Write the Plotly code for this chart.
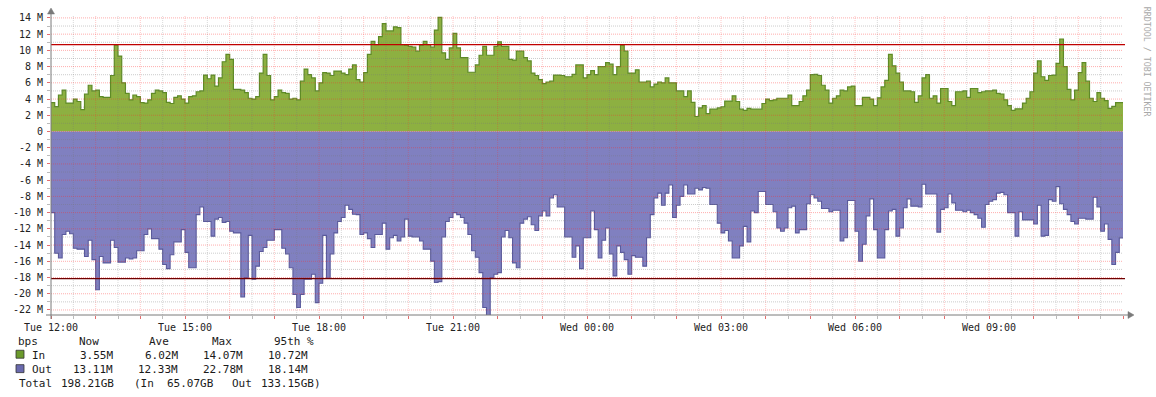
import pandas as pd
import plotly.graph_objects as go

# ---------------- data (Mbit/s, 5-minute samples from Tue 12:00) ----------------
in_mbps = [
    3.56, 3.07, 4.5, 5.1, 3.5, 3.5, 4.0, 3.7, 2.7, 4.6,
    5.7, 5.0, 5.1, 4.3, 4.2, 4.2, 6.9, 10.65, 9.3, 6.0,
    4.7, 3.9, 4.5, 4.3, 3.55, 3.5, 3.9, 4.7, 5.1, 5.0,
    4.8, 3.6, 3.45, 4.2, 4.4, 4.0, 3.5, 4.3, 4.4, 4.9,
    5.0, 6.95, 6.5, 6.95, 5.6, 6.6, 8.6, 9.5, 8.9, 5.2,
    5.2, 5.1, 4.8, 4.1, 4.0, 4.3, 7.2, 9.5,
    6.9, 3.9, 4.3, 5.1, 4.8, 4.7, 4.0, 4.1, 3.9, 6.2,
    7.7, 7.0, 6.6, 5.0, 6.0, 7.25, 7.2, 6.9, 7.45, 7.45,
    7.2, 7.0, 7.7, 8.2, 6.4, 6.1, 7.25, 9.5, 11.1, 10.7,
    11.7, 13.3, 12.4, 12.4, 12.9, 12.8, 10.7, 10.65, 10.5, 10.4,
    9.9, 10.65, 11.1, 10.7, 10.4, 12.5, 14.07, 9.7, 8.9, 10.3,
    12.1, 10.3, 9.1, 9.1, 7.3, 7.3, 8.2,
    9.4, 10.5, 9.4, 9.4, 10.5, 11.05, 10.5, 10.5, 8.9, 8.8,
    9.9, 9.9, 9.1, 8.7, 7.2, 6.9, 6.4, 5.9, 6.1, 6.2,
    6.95, 6.95, 6.9, 6.75, 6.75, 7.05, 8.2, 8.2, 6.6, 7.0,
    7.5, 7.0, 8.0, 8.0, 8.5, 8.3, 7.0, 8.0, 10.65, 9.9,
    7.2, 7.2, 7.6, 6.1, 6.1, 6.2, 5.5, 5.85, 6.1, 6.0,
    6.6, 6.0, 6.0, 5.0, 5.0, 4.3, 5.0, 3.6,
    1.85, 2.9, 3.2, 2.2, 2.75, 2.75, 2.9, 3.05, 3.75, 3.75,
    4.4, 3.7, 2.75, 2.6, 2.85, 2.75, 2.75, 2.75, 3.45, 4.0,
    3.8, 3.9, 4.1, 4.1, 4.1, 4.5, 3.2, 3.2, 3.7, 4.4,
    5.1, 7.0, 7.05, 6.9, 5.7, 5.1, 3.5, 4.1, 4.4, 5.1,
    5.0, 5.5, 5.6, 3.2, 3.2, 4.2, 4.2, 4.0, 3.2, 4.15,
    5.5, 6.3, 9.5, 8.1, 7.2, 6.1, 5.0,
    5.0, 4.9, 3.6, 4.4, 6.6, 7.0, 4.1, 4.4, 3.5, 5.3,
    5.3, 3.7, 3.2, 4.9, 4.9, 5.0, 4.2, 5.3, 5.3, 4.8,
    4.9, 5.0, 5.0, 5.1, 4.7, 4.6, 3.9, 3.2, 2.6, 2.8,
    2.8, 3.5, 4.1, 4.9, 7.2, 8.7, 6.75, 6.3, 6.9, 6.95,
    8.4, 11.4, 8.0, 5.2, 3.9, 5.1, 7.25, 8.5, 6.2, 4.1,
    3.7, 4.8, 4.1, 3.8, 2.85, 3.1, 3.55, 3.55,
]

out_mbps = [
    10.0, 15.0, 15.6, 12.7, 12.3, 12.6, 14.4, 14.5, 14.5, 15.4,
    13.4, 15.8, 19.5, 15.4, 16.2, 16.2, 13.4, 14.3, 16.1, 16.1,
    15.6, 15.7, 15.6, 14.7, 14.7, 12.7, 12.0, 13.2, 13.2, 14.5,
    16.4, 16.9, 15.2, 13.6, 13.6, 12.1, 14.9, 16.8, 16.8, 10.25,
    9.3, 11.1, 11.1, 12.9, 10.8, 10.6, 11.2, 11.1, 12.3, 12.5,
    12.5, 20.4, 18.0, 12.8, 18.2, 16.6, 14.8, 14.3,
    13.4, 13.4, 12.1, 12.1, 14.4, 15.1, 16.8, 20.1, 21.7, 20.1,
    18.2, 18.2, 17.6, 21.1, 18.7, 12.8, 18.1, 15.1, 12.5, 11.1,
    10.6, 9.1, 9.6, 10.2, 10.25, 12.7, 12.5, 13.2, 14.3, 12.7,
    12.7, 11.3, 14.5, 13.1, 12.8, 13.5, 13.0, 10.8, 12.9, 13.0,
    13.0, 13.5, 14.5, 14.5, 15.98, 18.6, 18.5, 13.0, 11.1, 10.6,
    10.0, 10.25, 10.6, 11.3, 12.7, 14.7, 15.5,
    17.4, 21.7, 22.78, 18.0, 17.6, 17.4, 13.0, 12.2, 13.1, 16.2,
    16.8, 11.3, 10.8, 10.5, 11.5, 12.2, 10.4, 9.8, 10.4, 8.2,
    7.8, 9.3, 9.3, 13.0, 13.0, 15.5, 14.1, 16.9, 13.1, 13.1,
    9.8, 12.1, 15.6, 13.4, 11.9, 15.1, 17.8, 14.1, 14.9, 15.8,
    17.6, 15.3, 15.5, 15.5, 16.6, 13.1, 10.25, 8.2, 7.6, 9.1,
    7.6, 6.6, 10.6, 9.1, 8.0, 6.6, 7.7, 7.7,
    7.0, 7.2, 6.9, 7.0, 9.0, 9.0, 11.3, 12.5, 12.2, 13.5,
    15.6, 15.6, 14.1, 11.7, 13.6, 9.8, 10.0, 7.4, 7.4, 9.0,
    9.0, 9.9, 11.9, 12.3, 11.9, 9.4, 9.2, 12.5, 12.1, 12.1,
    8.9, 7.8, 8.2, 8.6, 9.5, 9.5, 9.9, 9.7, 9.7, 13.5,
    13.1, 8.5, 8.5, 12.3, 16.0, 13.9, 10.4, 8.3, 12.1, 15.6,
    15.6, 12.1, 9.8, 9.6, 12.9, 11.9, 9.4,
    8.3, 9.2, 9.2, 9.3, 6.5, 7.7, 7.7, 7.7, 12.4, 9.6,
    9.4, 7.7, 8.8, 9.7, 9.7, 9.9, 9.7, 10.0, 10.25, 10.7,
    11.8, 9.0, 8.6, 8.4, 7.6, 7.5, 7.8, 10.0, 10.0, 12.9,
    9.9, 10.9, 10.9, 10.9, 11.4, 9.1, 12.9, 12.8, 8.4, 8.6,
    6.8, 8.9, 9.6, 10.25, 11.1, 11.4, 10.7, 10.7, 10.8, 10.8,
    8.1, 9.3, 12.3, 11.4, 13.3, 16.4, 14.9, 13.11,
]

in_p95 = 10.72
out_p95 = 18.14

start_time = "2024-01-02 12:00"   # a Tuesday
sample_minutes = 5
span_hours = 24

y_tick_values = list(range(-22, 15, 2))
y_tick_labels = ["0" if v == 0 else f"{v} M" for v in y_tick_values]
x_label_every_hours = 3

legend_header = ["Now", "Ave", "Max", "95th %"]
in_stats = ["3.55M", "6.02M", "14.07M", "10.72M"]
out_stats = ["13.11M", "12.33M", "22.78M", "18.14M"]
total_parts = ["Total", "198.21GB", "(In", "65.07GB", "Out", "133.15GB)"]
credit = "RRDTOOL / TOBI OETIKER"

# ---------------- styling ----------------
W, H = 1156, 397
PL, PR, PT, PB = 51, 1123, 13, 315          # plot box in pixels
Y_TOP = 14.36
Y_BOT = -22.62
MONO = "DejaVu Sans Mono"
GREEN_FILL = "#8DB041"
GREEN_LINE = "#5E8A26"
BLUE_FILL = "#8080C0"
BLUE_LINE = "#5A5A9C"
MAJOR_H = "rgba(255,40,40,0.38)"
MINOR_H = "rgba(120,120,120,0.38)"
MAJOR_V = "rgba(255,40,40,0.26)"
MINOR_V = "rgba(120,120,120,0.28)"
AXIS = "#7A7A7A"


def X(px):
    return (px - PL) / (PR - PL)


def Y(py):
    return (PB - py) / (PB - PT)


t = pd.date_range(start_time, periods=len(in_mbps), freq=f"{sample_minutes}min")
t_end = t[0] + pd.Timedelta(hours=span_hours)
tx = list(t) + [t_end]
in_y = list(in_mbps) + [in_mbps[-1]]
out_y = [-v for v in out_mbps] + [-out_mbps[-1]]

fig = go.Figure()
fig.add_trace(go.Scatter(x=tx, y=in_y, mode="lines", line=dict(shape="hv", color=GREEN_LINE, width=1.2),
                         fill="tozeroy", fillcolor=GREEN_FILL, hoverinfo="skip", showlegend=False))
fig.add_trace(go.Scatter(x=tx, y=out_y, mode="lines", line=dict(shape="hv", color=BLUE_LINE, width=1.1),
                         fill="tozeroy", fillcolor=BLUE_FILL, hoverinfo="skip", showlegend=False))

shapes = []
# grid drawn above the areas (as rrdtool does)
for m in range(1, span_hours * 2):
    tv = t[0] + pd.Timedelta(minutes=30 * m)
    col = MAJOR_V if m % 2 == 0 else MINOR_V
    shapes.append(dict(type="line", xref="x", yref="paper", x0=tv, x1=tv, y0=0, y1=1,
                       line=dict(color=col, width=1, dash="1px,1px"), layer="above"))
for v in range(-22, 15):
    col = MAJOR_H if v % 2 == 0 else MINOR_H
    shapes.append(dict(type="line", xref="paper", yref="y", x0=0, x1=1, y0=v, y1=v,
                       line=dict(color=col, width=1, dash="1px,1px"), layer="above"))
# 95th percentile lines
shapes.append(dict(type="line", xref="paper", yref="y", x0=0, x1=X(1125), y0=in_p95, y1=in_p95,
                   line=dict(color="#C00000", width=1.2), layer="above"))
shapes.append(dict(type="line", xref="paper", yref="y", x0=0, x1=X(1125), y0=-out_p95, y1=-out_p95,
                   line=dict(color="#700000", width=1.2), layer="above"))
# axes with arrows
shapes.append(dict(type="line", xref="paper", yref="paper", x0=X(46), x1=X(1129), y0=Y(315), y1=Y(315),
                   line=dict(color=AXIS, width=1), layer="above"))
shapes.append(dict(type="path", xref="paper", yref="paper",
                   path=f"M {X(1128)} {Y(311.5)} L {X(1134)} {Y(315)} L {X(1128)} {Y(318.5)} Z",
                   fillcolor=AXIS, line=dict(color=AXIS, width=0.5), layer="above"))
shapes.append(dict(type="line", xref="paper", yref="paper", x0=X(51), x1=X(51), y0=Y(319), y1=Y(11),
                   line=dict(color=AXIS, width=1), layer="above"))
shapes.append(dict(type="path", xref="paper", yref="paper",
                   path=f"M {X(47.5)} {Y(12)} L {X(51)} {Y(6)} L {X(54.5)} {Y(12)} Z",
                   fillcolor=AXIS, line=dict(color=AXIS, width=0.5), layer="above"))
# legend swatches
for py, fc in [(354.5, "#6B9A2C"), (369, "#6A6AAE")]:
    shapes.append(dict(type="rect", xref="paper", yref="paper", x0=X(16), x1=X(24), y0=Y(py + 4), y1=Y(py - 4),
                       fillcolor=fc, line=dict(color="#333333", width=0.8), layer="above"))

annotations = []


def txt(s, px, py, anchor="left", size=11, color="#1a1a1a", angle=0):
    annotations.append(dict(text=s, xref="paper", yref="paper", x=X(px), y=Y(py), xanchor=anchor,
                            yanchor="middle", showarrow=False, textangle=angle,
                            font=dict(family=MONO, size=size, color=color)))


txt("bps", 16, 342)
hdr_x = [(89, "center"), (159, "center"), (222, "center"), (272, "left")]
for s, (px, a) in zip(legend_header, hdr_x):
    txt(s, px, 342, a)
txt("In", 30, 355.5)
txt("Out", 30, 370)
for i, px in enumerate([115, 180, 245, 310]):
    txt(in_stats[i], px, 355.5, "right")
    txt(out_stats[i], px, 370, "right")
for s, px in zip(total_parts, [16.5, 59, 131.5, 164.5, 230, 258.5]):
    txt(s, px, 384)
txt(credit, 1147, 60, "center", size=8.3, color="#A8A8A8", angle=90)

hour_ticks = [t[0] + pd.Timedelta(hours=h) for h in range(span_hours + 1)]
hour_labels = [(hour_ticks[h].strftime("%a %H:%M") if (h % x_label_every_hours == 0 and h < span_hours) else "")
               for h in range(span_hours + 1)]

fig.update_layout(
    width=W, height=H,
    margin=dict(l=PL, r=W - PR, t=PT, b=H - PB, pad=0),
    paper_bgcolor="white", plot_bgcolor="white",
    shapes=shapes, annotations=annotations,
    xaxis=dict(range=[t[0], t_end], tickmode="array", tickvals=hour_ticks, ticktext=hour_labels,
               showgrid=False, zeroline=False, showline=False,
               ticks="outside", ticklen=3, tickcolor="rgba(255,60,60,0.6)", tickwidth=1,
               minor=dict(dtick=30 * 60 * 1000, ticks="outside", ticklen=3, tickcolor="rgba(120,120,120,0.5)",
                          showgrid=False),
               tickfont=dict(family=MONO, size=10, color="#222")),
    yaxis=dict(range=[Y_BOT, Y_TOP], tickmode="array", tickvals=y_tick_values, ticktext=y_tick_labels,
               showgrid=False, zeroline=False, showline=False,
               ticks="outside", ticklen=3, tickcolor="rgba(255,60,60,0.6)", tickwidth=1,
               ticklabelstandoff=2,
               minor=dict(dtick=1, ticks="outside", ticklen=3, tickcolor="rgba(120,120,120,0.5)", showgrid=False),
               tickfont=dict(family=MONO, size=10, color="#222")),
)

fig.write_html("out.html")
